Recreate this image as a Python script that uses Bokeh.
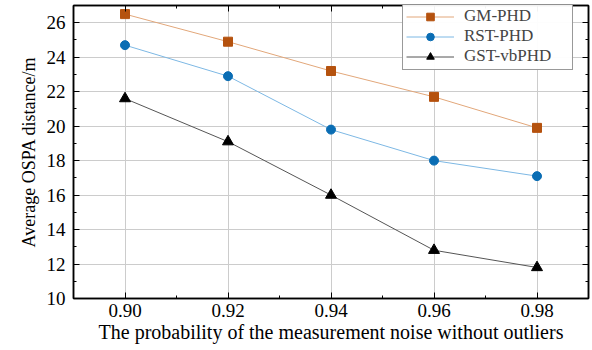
from bokeh.plotting import figure
from bokeh.models import LinearAxis, FixedTicker, Legend, LegendItem, NumeralTickFormatter, Range1d
from bokeh.embed import file_html
from bokeh.resources import INLINE

x = [0.90, 0.92, 0.94, 0.96, 0.98]
gm_phd = [26.5, 24.9, 23.2, 21.7, 19.9]
rst_phd = [24.7, 22.9, 19.8, 18.0, 17.1]
gst_vbphd = [21.6, 19.1, 16.0, 12.8, 11.8]
x_ticks = [0.90, 0.92, 0.94, 0.96, 0.98]
y_ticks = [10, 12, 14, 16, 18, 20, 22, 24, 26]

FONT = "Liberation Serif"

p = figure(width=590, height=350, output_backend="svg", toolbar_location=None,
           x_range=Range1d(0.89, 0.99), y_range=Range1d(10, 27),
           min_border_left=73, min_border_right=2, min_border_top=5, min_border_bottom=52)
p.outline_line_color = "black"
p.outline_line_width = 1.5

p.xgrid.ticker = FixedTicker(ticks=x_ticks)
p.ygrid.ticker = FixedTicker(ticks=y_ticks)
p.xgrid.grid_line_color = "#cccccc"
p.ygrid.grid_line_color = "#cccccc"

x_minor = [0.89, 0.91, 0.93, 0.95, 0.97, 0.99]
y_minor = [11, 13, 15, 17, 19, 21, 23, 25, 27]

def style(ax, ticks, minor, labels=True):
    ax.ticker = FixedTicker(ticks=ticks, minor_ticks=minor)
    ax.major_tick_in = 6
    ax.major_tick_out = 0
    ax.minor_tick_in = 3
    ax.minor_tick_out = 0
    ax.axis_line_color = "black"
    ax.axis_line_width = 1.5
    ax.major_tick_line_color = "black"
    ax.minor_tick_line_color = "black"
    ax.major_label_text_font = FONT
    ax.major_label_text_font_size = "19px"
    ax.major_label_text_font_style = "normal"
    ax.major_label_text_color = "black"
    ax.axis_label_text_font = FONT
    ax.axis_label_text_font_size = "19px"
    ax.axis_label_text_font_style = "normal"
    ax.axis_label_text_color = "black"
    if not labels:
        ax.major_label_overrides = {t: "" for t in ticks}
        ax.major_label_standoff = 0

style(p.xaxis[0], x_ticks, x_minor)
style(p.yaxis[0], y_ticks, y_minor)
p.xaxis[0].formatter = NumeralTickFormatter(format="0.00")
p.xaxis[0].axis_label = "The probability of the measurement noise without outliers"
p.yaxis[0].axis_label = "Average OSPA distance/m"
p.xaxis[0].axis_label_text_font_size = "20px"
p.yaxis[0].axis_label_text_font_size = "18px"
p.xaxis[0].major_label_standoff = 5
p.xaxis[0].axis_label_standoff = 1
p.yaxis[0].major_label_standoff = 8
p.yaxis[0].axis_label_standoff = 5

top = LinearAxis()
style(top, x_ticks, x_minor, labels=False)
p.add_layout(top, "above")
right = LinearAxis()
style(right, y_ticks, y_minor, labels=False)
p.add_layout(right, "right")

l1 = p.line(x, gm_phd, line_color="#E2A77A", line_width=1)
s1 = p.scatter(x, gm_phd, marker="square", size=9, fill_color="#B5520E", line_color="#B5520E")
l2 = p.line(x, rst_phd, line_color="#7DB8E4", line_width=1)
s2 = p.scatter(x, rst_phd, marker="circle", size=9, fill_color="#0A6DB4", line_color="#0A6DB4")
l3 = p.line(x, gst_vbphd, line_color="#555555", line_width=1)
s3 = p.scatter(x, gst_vbphd, marker="triangle", size=11, fill_color="black", line_color="black")

legend = Legend(items=[
    LegendItem(label="GM-PHD", renderers=[l1, s1]),
    LegendItem(label="RST-PHD", renderers=[l2, s2]),
    LegendItem(label="GST-vbPHD", renderers=[l3, s3]),
], location=(329, 228))
legend.label_text_font = FONT
legend.label_text_font_size = "17px"
legend.label_height = 16
legend.glyph_width = 48
legend.glyph_height = 19
legend.label_width = 105
legend.label_standoff = 10
legend.spacing = 0
legend.padding = 3
legend.margin = 0
legend.border_line_color = "#333333"
legend.border_line_width = 1
p.add_layout(legend, "center")

open("out.html", "w").write(file_html(p, INLINE))
